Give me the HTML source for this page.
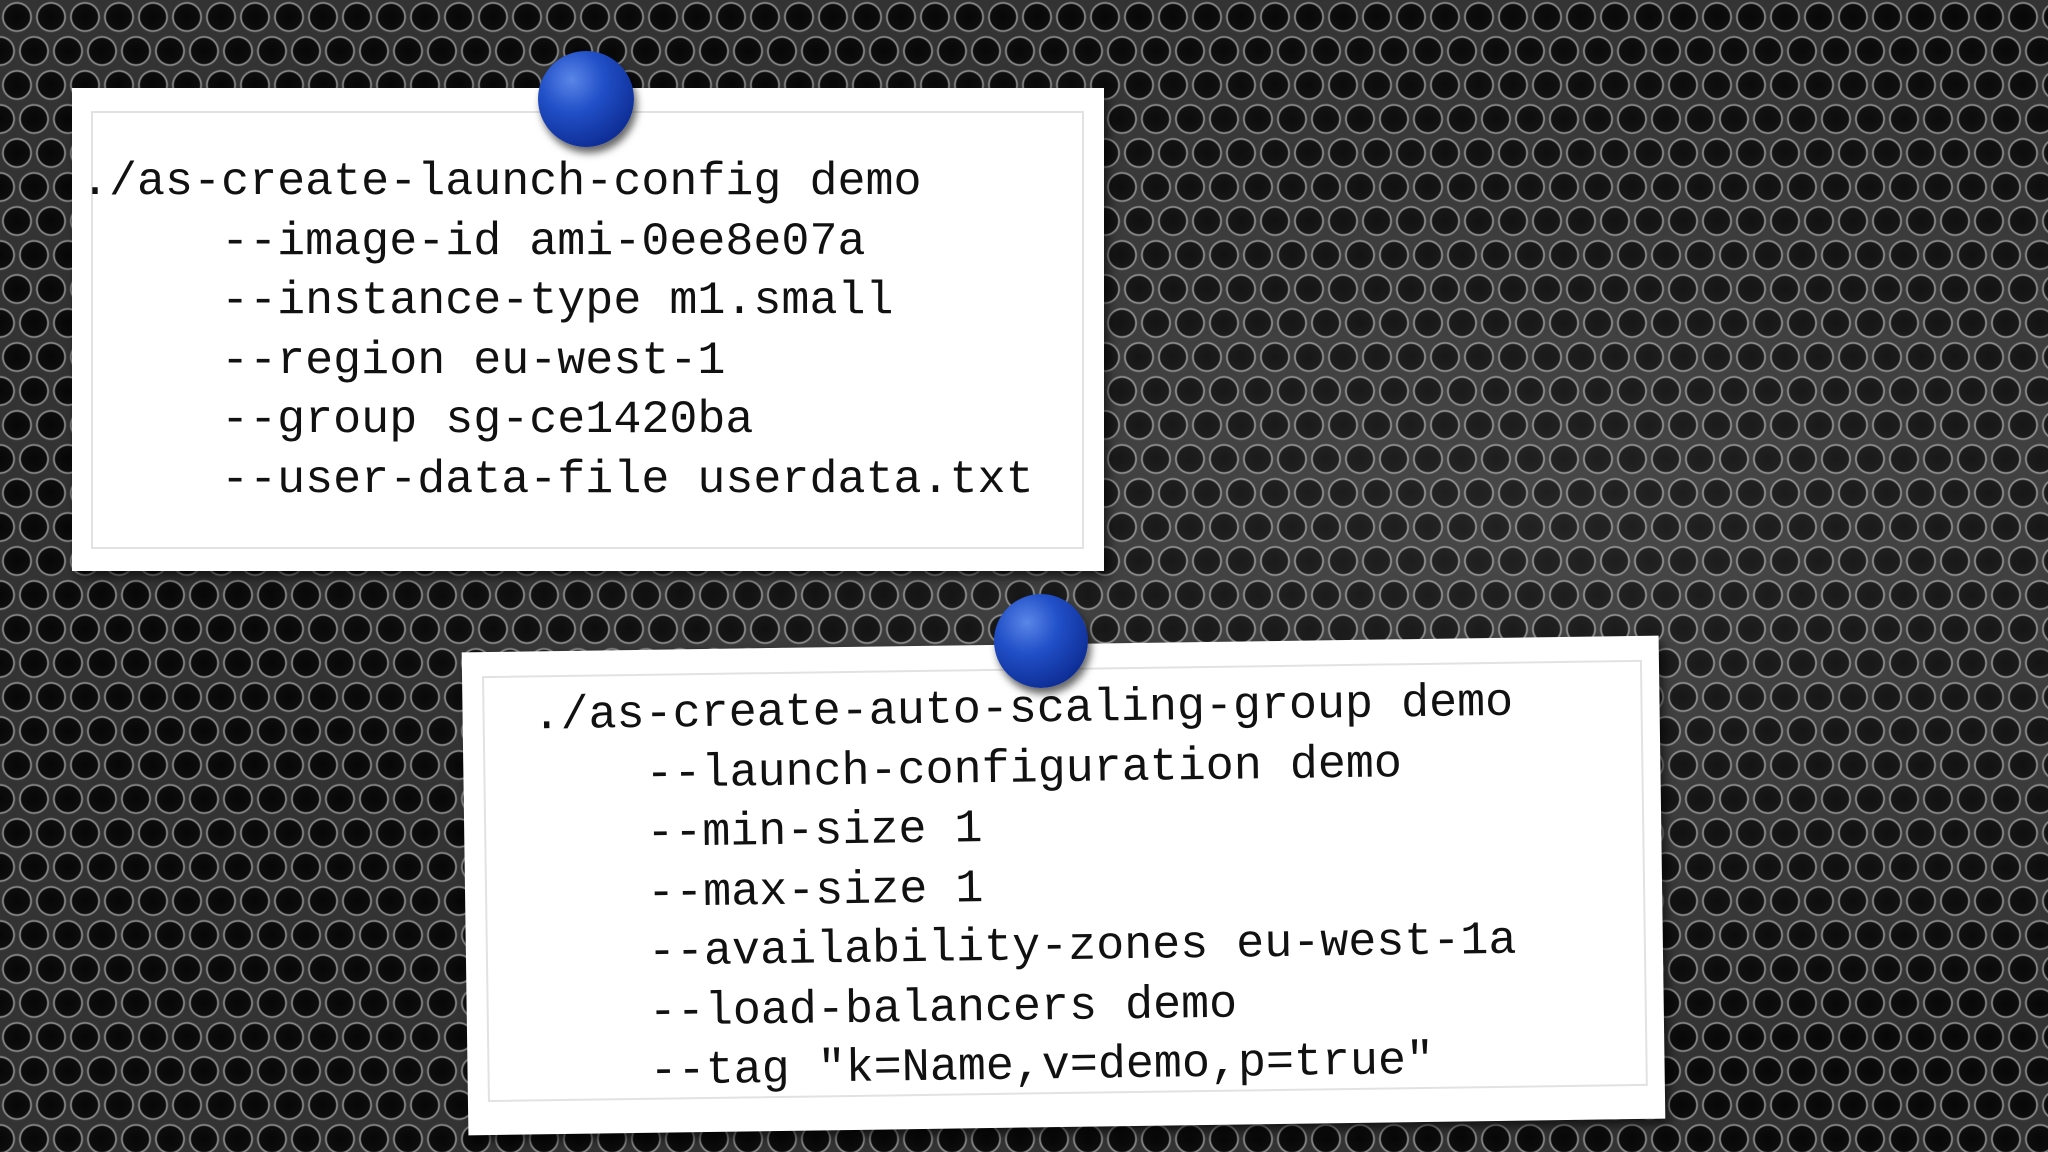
<!DOCTYPE html>
<html><head><meta charset="utf-8"><style>
html,body{margin:0;padding:0}
body{width:2048px;height:1152px;overflow:hidden;position:relative;
background:
radial-gradient(ellipse at 75% 45%,rgba(255,255,255,0.10),rgba(0,0,0,0) 60%),
radial-gradient(circle at 17px 17px,#070707 0,#0d0d0d 12.5px,#9a9a9a 14px,#3a3a3a 15.5px,rgba(0,0,0,0) 16px),
radial-gradient(circle at 0px 51px,#070707 0,#0d0d0d 12.5px,#9a9a9a 14px,#3a3a3a 15.5px,rgba(0,0,0,0) 16px),
radial-gradient(circle at 34px 51px,#070707 0,#0d0d0d 12.5px,#9a9a9a 14px,#3a3a3a 15.5px,rgba(0,0,0,0) 16px),
#333;
background-size:100% 100%,34px 68px,34px 68px,34px 68px;}
.card{position:absolute;background:#fff;box-shadow:4px 6px 10px rgba(0,0,0,0.6);}
.inner{position:absolute;border:2px solid #e2e2e2;}
pre{position:absolute;margin:0;font-family:"Liberation Mono",monospace;font-size:46.7px;line-height:59.5px;color:#111;}
.pin{position:absolute;border-radius:50%;
background:radial-gradient(circle at 35% 30%,#5a86e8 0,#2150c8 35%,#0f2f98 75%,#0a2070 100%);
box-shadow:3px 6px 8px rgba(0,0,0,0.6);}
</style></head><body>
<div class="card" style="left:72px;top:88px;width:1032px;height:483px;">
<div class="inner" style="left:19px;top:23px;width:989px;height:434px;"></div>
<pre style="left:9px;top:65px;">./as-create-launch-config demo
     --image-id ami-0ee8e07a
     --instance-type m1.small
     --region eu-west-1
     --group sg-ce1420ba
     --user-data-file userdata.txt</pre>
</div>
<div class="pin" style="left:538px;top:51px;width:96px;height:96px;"></div>
<div class="card" style="left:465px;top:644px;width:1197px;height:483px;transform:rotate(-0.8deg);">
<div class="inner" style="left:20px;top:24px;width:1156px;height:422px;"></div>
<pre style="left:70px;top:36px;">./as-create-auto-scaling-group demo
    --launch-configuration demo
    --min-size 1
    --max-size 1
    --availability-zones eu-west-1a
    --load-balancers demo
    --tag "k=Name,v=demo,p=true"</pre>
</div>
<div class="pin" style="left:994px;top:594px;width:94px;height:94px;"></div>
</body></html>
